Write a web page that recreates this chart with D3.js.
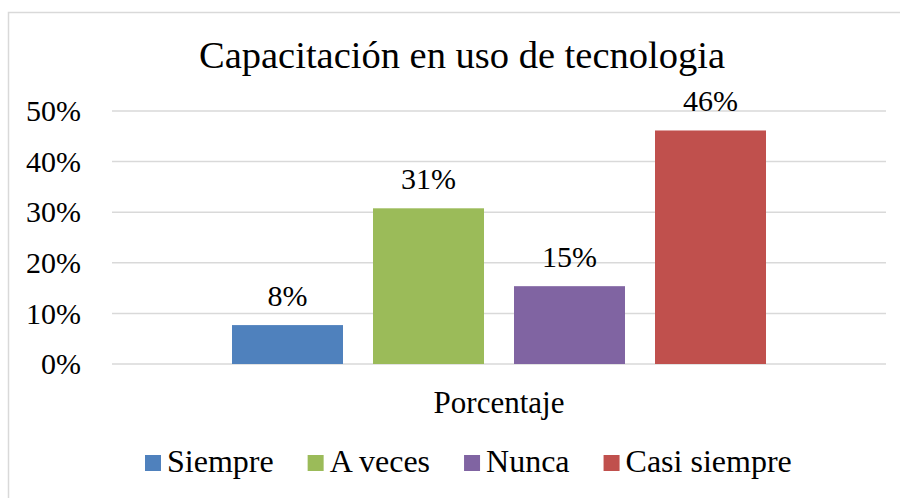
<!DOCTYPE html>
<html>
<head>
<meta charset="utf-8">
<script src="https://cdn.jsdelivr.net/npm/d3@7"></script>
<style>
  body { margin: 0; background: #fff; }
</style>
</head>
<body>
<div id="chart"></div>
<script>
// --- Data ---
const TITLE = 'Capacitación en uso de tecnologia';
const GROUP = 'Porcentaje';
const categories = ['Siempre', 'A veces', 'Nunca', 'Casi siempre'];
const values = [0.0769, 0.3077, 0.1538, 0.4615];
const colors = ['#4F81BD', '#9BBB59', '#8064A2', '#C0504D'];
const yTicks = [0, 0.1, 0.2, 0.3, 0.4, 0.5];

const FONT = '"Liberation Serif"';
const W = 900, H = 498;
const plot = { left: 112, right: 886, top: 111, bottom: 364 };
const pct = d3.format('.0%');

const svg = d3.select('#chart').append('svg')
    .attr('width', W).attr('height', H)
    .style('font-family', FONT);

// chart area border (runs past the picture on right/bottom)
svg.append('rect')
    .attr('x', 8.5).attr('y', 12.5)
    .attr('width', 920).attr('height', 520)
    .attr('fill', '#fff').attr('stroke', '#D9D9D9').attr('stroke-width', 1.5);

// Title
svg.append('text')
    .attr('x', 462).attr('y', 68)
    .attr('text-anchor', 'middle')
    .style('font-family', FONT).style('font-size', '38.5px')
    .text(TITLE);

// Scales
const y = d3.scaleLinear().domain([0, 0.5]).range([plot.bottom, plot.top]);
const x0 = d3.scaleBand().domain([GROUP])
    .range([plot.left, plot.right])
    .paddingInner(0).paddingOuter(120 / 534);
const x1 = d3.scaleBand().domain(categories)
    .range([0, x0.bandwidth()])
    .paddingInner(30 / 141).paddingOuter(0);

// Gridlines
svg.append('g').selectAll('line').data(yTicks).join('line')
    .attr('x1', plot.left).attr('x2', plot.right)
    .attr('y1', d => y(d)).attr('y2', d => y(d))
    .attr('stroke', '#D9D9D9').attr('stroke-width', 1.5);

// Y axis labels
const yAxis = svg.append('g')
    .attr('transform', `translate(${plot.left},0)`)
    .call(d3.axisLeft(y).tickValues(yTicks).tickFormat(pct).tickSize(0).tickPadding(31));
yAxis.select('.domain').remove();
yAxis.attr('font-family', null).attr('font-size', null);
yAxis.selectAll('text')
    .style('font-family', FONT)
    .style('font-size', '30px').attr('fill', '#000');

// Bars
const g = svg.append('g').attr('transform', `translate(${x0(GROUP)},0)`);
g.selectAll('rect').data(categories).join('rect')
    .attr('x', d => x1(d))
    .attr('y', (d, i) => y(values[i]))
    .attr('width', x1.bandwidth())
    .attr('height', (d, i) => y(0) - y(values[i]))
    .attr('fill', (d, i) => colors[i]);

// Value labels
g.selectAll('text.val').data(categories).join('text')
    .attr('class', 'val')
    .attr('x', d => x1(d) + x1.bandwidth() / 2)
    .attr('y', (d, i) => y(values[i]) - 19)
    .attr('text-anchor', 'middle')
    .style('font-family', FONT).style('font-size', '30px')
    .text((d, i) => pct(values[i]));

// Category label
svg.append('text')
    .attr('x', x0(GROUP) + x0.bandwidth() / 2).attr('y', 413)
    .attr('text-anchor', 'middle')
    .style('font-family', FONT).style('font-size', '31px')
    .text(GROUP);

// Legend
const legend = svg.append('g').attr('transform', 'translate(145,455)');
let lx = 0;
categories.forEach((c, i) => {
    const item = legend.append('g').attr('transform', `translate(${lx},0)`);
    item.append('rect').attr('width', 16).attr('height', 16).attr('fill', colors[i]);
    const t = item.append('text').attr('x', 22).attr('y', 17)
        .style('font-family', FONT).style('font-size', '32px').text(c);
    lx += 22 + t.node().getComputedTextLength() + 34;
});
</script>
</body>
</html>
